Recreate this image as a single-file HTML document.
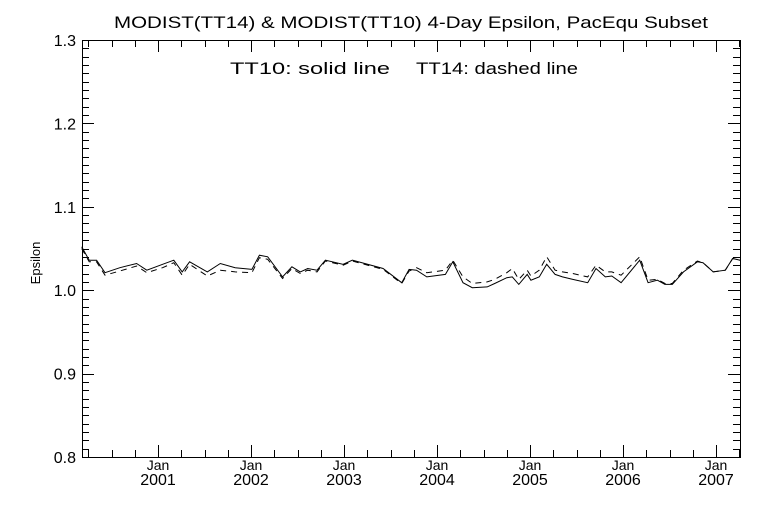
<!DOCTYPE html>
<html><head><meta charset="utf-8"><style>
html,body{margin:0;padding:0;background:#fff;}
svg text{font-family:"Liberation Sans",sans-serif;fill:#000;}
</style></head><body>
<svg id="chart" width="768" height="512" viewBox="0 0 768 512" xmlns="http://www.w3.org/2000/svg">
<rect width="768" height="512" fill="#fff"/>
<text x="114" y="28" font-size="17" textLength="594" lengthAdjust="spacingAndGlyphs">MODIST(TT14) &amp; MODIST(TT10) 4-Day Epsilon, PacEqu Subset</text>
<text x="230" y="74" font-size="17" textLength="160" lengthAdjust="spacingAndGlyphs">TT10: solid line</text>
<text x="416" y="74" font-size="17" textLength="162" lengthAdjust="spacingAndGlyphs">TT14: dashed line</text>
<text x="0" y="0" font-size="13" text-anchor="middle" transform="translate(40,263) rotate(-90)">Epsilon</text>
<g id="axes"></g>
<g id="series"></g>
</svg>
<script>
const solidYears=[2000.18,2000.26,2000.34,2000.43,2000.59,2000.77,2000.88,2001.05,2001.17,2001.26,2001.34,2001.53,2001.67,2001.83,2002.01,2002.09,2002.18,2002.34,2002.44,2002.53,2002.61,2002.71,2002.80,2002.99,2003.09,2003.42,2003.62,2003.70,2003.78,2003.89,2004.09,2004.17,2004.28,2004.38,2004.54,2004.62,2004.75,2004.81,2004.88,2004.97,2005.01,2005.10,2005.18,2005.27,2005.35,2005.46,2005.62,2005.71,2005.81,2005.88,2005.98,2006.18,2006.27,2006.37,2006.45,2006.53,2006.65,2006.80,2006.86,2006.97,2007.10,2007.18,2007.26];
const solidValues=[1.052,1.036,1.036,1.021,1.027,1.032,1.024,1.031,1.036,1.022,1.034,1.022,1.032,1.027,1.025,1.042,1.040,1.016,1.028,1.022,1.026,1.024,1.036,1.031,1.036,1.026,1.009,1.025,1.024,1.016,1.019,1.034,1.009,1.003,1.004,1.008,1.015,1.016,1.007,1.019,1.012,1.016,1.031,1.019,1.016,1.013,1.009,1.026,1.016,1.017,1.009,1.036,1.009,1.012,1.007,1.007,1.022,1.034,1.033,1.022,1.024,1.038,1.036];
const dashedValues=[1.050,1.034,1.034,1.018,1.023,1.029,1.021,1.027,1.033,1.018,1.031,1.017,1.024,1.022,1.021,1.039,1.037,1.014,1.026,1.020,1.024,1.022,1.035,1.030,1.035,1.025,1.008,1.023,1.027,1.021,1.024,1.036,1.016,1.008,1.010,1.013,1.021,1.026,1.013,1.024,1.017,1.024,1.040,1.024,1.022,1.020,1.016,1.030,1.022,1.022,1.018,1.040,1.012,1.013,1.008,1.008,1.024,1.035,1.033,1.022,1.024,1.038,1.036];
const yTickLabels=["0.8","0.9","1.0","1.1","1.2","1.3"];
const xTickYears=[2001,2002,2003,2004,2005,2006,2007];
const NS="http://www.w3.org/2000/svg";
const L=82,R=740,T=40,B=457;
const xS=y=>158+(y-2001)*93;
const yS=v=>B-(v-0.8)/0.5*(B-T);
const axes=document.getElementById('axes');
function line(x1,y1,x2,y2,name){const l=document.createElementNS(NS,'line');
l.setAttribute('x1',x1);l.setAttribute('y1',y1);l.setAttribute('x2',x2);l.setAttribute('y2',y2);
l.setAttribute('stroke','#000');l.setAttribute('stroke-width','1');


axes.appendChild(l);return l;}
const frame=document.createElementNS(NS,'rect');
frame.setAttribute('x',L+0.5);frame.setAttribute('y',T+0.5);frame.setAttribute('width',R-L);frame.setAttribute('height',B-T);
frame.setAttribute('fill','none');frame.setAttribute('stroke','#000');


axes.appendChild(frame);
for(let i=0;i<=50;i++){const v=0.8+i*0.01;const y=Math.round(yS(v))+0.5;const len=(i%10===0)?12:7;
line(L,y,L+len,y,'y-tick');line(R-len,y,R,y,'y-tick-right');}
yTickLabels.forEach(s=>{const t=document.createElementNS(NS,'text');
t.setAttribute('x',L-6);t.setAttribute('y',yS(parseFloat(s))+6);t.setAttribute('font-size','16');t.setAttribute('text-anchor','end');
t.textContent=s;


axes.appendChild(t);});
for(let q=2000.25;q<=2007.3;q+=0.25){const x=Math.round(xS(q))+0.5;if(x<L||x>R)continue;
const major=Math.abs(q-Math.round(q))<0.01;const len=major?12:7;
line(x,B-len,x,B,'x-tick');line(x,T,x,T+len,'x-tick-top');}
xTickYears.forEach(yr=>{const x=xS(yr);
const a=document.createElementNS(NS,'text');a.setAttribute('x',x);a.setAttribute('y',470);a.setAttribute('font-size','14');a.setAttribute('text-anchor','middle');a.textContent='Jan';


axes.appendChild(a);
const b=document.createElementNS(NS,'text');b.setAttribute('x',x);b.setAttribute('y',485);b.setAttribute('font-size','16');b.setAttribute('text-anchor','middle');b.textContent=String(yr);


axes.appendChild(b);});
const series=document.getElementById('series');
function path(vals,dash,name){const p=document.createElementNS(NS,'polyline');
p.setAttribute('points',solidYears.map((yr,i)=>xS(yr).toFixed(1)+','+yS(vals[i]).toFixed(1)).join(' '));
p.setAttribute('fill','none');p.setAttribute('stroke','#000');p.setAttribute('stroke-width','1');
if(dash)p.setAttribute('stroke-dasharray','6,5');


series.appendChild(p);}
path(dashedValues,true,'tt14-dashed-line');
path(solidValues,false,'tt10-solid-line');
</script>
</body></html>
